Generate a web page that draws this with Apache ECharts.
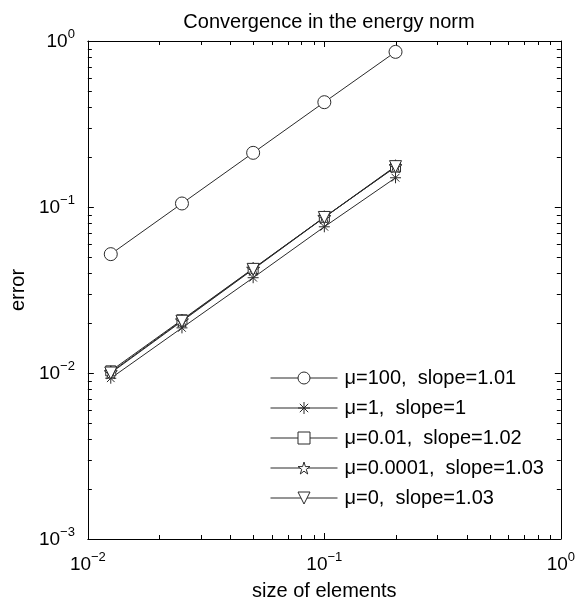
<!DOCTYPE html>
<html>
<head>
<meta charset="utf-8">
<script src="https://cdn.jsdelivr.net/npm/echarts@6/dist/echarts.min.js"></script>
<style>
html,body{margin:0;padding:0;background:#fff;}
#main{width:578px;height:606px;}
</style>
</head>
<body>
<div id="main"></div>
<script>
// element sizes (h) and errors in the energy norm
var sizes = [0.0125, 0.025, 0.05, 0.1, 0.2];
var err100 = [0.052, 0.105, 0.212, 0.428, 0.86];
var err1 = [0.0093, 0.0187, 0.0375, 0.076, 0.150];
var err001 = [0.0103, 0.0209, 0.0426, 0.0868, 0.174];
var err00001 = [0.0101, 0.0207, 0.0424, 0.0868, 0.176];
var err0 = [0.0100, 0.0205, 0.0421, 0.0865, 0.175];
var names = ['μ=100,  slope=1.01', 'μ=1,  slope=1', 'μ=0.01,  slope=1.02', 'μ=0.0001,  slope=1.03', 'μ=0,  slope=1.03'];

// minor tick positions (2..9 x 10^k)
var xDecades = [0.01, 0.1];
var yDecades = [0.001, 0.01, 0.1];
var mult = [2, 3, 4, 5, 6, 7, 8, 9];

var FONT = 'Liberation Sans';
var INK = '#000';
var LINE = '#2a2a2a';

var ASTERISK = 'path://M1,0L1,2M0,1L2,1M0.3,0.3L1.7,1.7M0.3,1.7L1.7,0.3';
var STAR = 'path://M0.951,0L1.1755,0.691L1.902,0.691L1.314,1.118L1.539,1.809L0.951,1.382L0.363,1.809L0.588,1.118L0,0.691L0.7265,0.691Z';
var TRIDOWN = 'path://M0,0L2,0L1,1.73Z';

function pairs(ys) {
	return sizes.map(function(x, i) { return [x, ys[i]]; });
}

function expLabel(v) {
	var e = Math.round(Math.log10(v));
	var s = e < 0 ? '\u2212' + (-e) : '' + e;
	return '{b|10}{s|' + s + '}';
}

var richLab = {
	b: {fontFamily: FONT, fontSize: 19, color: INK, lineHeight: 20, verticalAlign: 'bottom'},
	s: {fontFamily: FONT, fontSize: 13, color: INK, lineHeight: 13, verticalAlign: 'bottom', padding: [0, 0, 10, 0]}
};

function minorData(decades) {
	var out = [];
	decades.forEach(function(d) {
		mult.forEach(function(m) { out.push(+(m * d).toPrecision(3)); });
	});
	return out;
}

function lineSeries(name, ys, symbol, size) {
	return {
		name: name,
		type: 'line',
		data: pairs(ys),
		symbol: symbol,
		symbolSize: size,
		showAllSymbol: true,
		lineStyle: {color: LINE, width: 1},
		itemStyle: {color: '#fff', borderColor: LINE, borderWidth: 1},
		emphasis: {disabled: true},
		animation: false,
		z: 3
	};
}

var myChart = echarts.init(document.getElementById('main'));

var axisCommon = {
	type: 'log',
	logBase: 10,
	axisLine: {show: true, lineStyle: {color: INK, width: 1}},
	axisTick: {show: true, inside: true, length: 6, lineStyle: {color: INK}},
	splitLine: {show: false}
};

option = {
	backgroundColor: '#fff',
	animation: false,
	title: {
		text: 'Convergence in the energy norm',
		left: 324,
		textAlign: 'center',
		top: 7,
		textStyle: {fontFamily: FONT, fontSize: 20, fontWeight: 'normal', color: INK}
	},
	grid: {left: 87, right: 17, top: 41, bottom: 65, containLabel: false},
	legend: {
		orient: 'vertical',
		left: 265,
		top: 363,
		itemWidth: 67,
		itemHeight: 15,
		itemGap: 10,
		data: names,
		textStyle: {fontFamily: FONT, fontSize: 20, color: INK, lineHeight: 20, padding: [0, 0, 0, 2]},
		lineStyle: {width: 1, color: LINE},
		itemStyle: {borderWidth: 1, borderColor: LINE, color: '#fff'},
		selectedMode: false
	},
	xAxis: [
		Object.assign({}, axisCommon, {
			min: 0.01, max: 1, position: 'bottom',
			name: 'size of elements',
			nameLocation: 'middle',
			nameGap: 42,
			nameTextStyle: {fontFamily: FONT, fontSize: 20, color: INK},
			axisLabel: {formatter: expLabel, rich: richLab, margin: 15}
		}),
		Object.assign({}, axisCommon, {
			min: 0.01, max: 1, position: 'top',
			axisLabel: {show: false}
		})
	],
	yAxis: [
		Object.assign({}, axisCommon, {
			min: 0.001, max: 1, position: 'left',
			name: 'error',
			nameLocation: 'middle',
			nameGap: 52,
			nameTextStyle: {fontFamily: FONT, fontSize: 20, color: INK},
			axisLabel: {formatter: expLabel, rich: richLab, margin: 13}
		}),
		Object.assign({}, axisCommon, {
			min: 0.001, max: 1, position: 'right',
			axisLabel: {show: false}
		})
	],
	series: [
		lineSeries(names[0], err100, 'circle', 13),
		lineSeries(names[1], err1, ASTERISK, 11),
		lineSeries(names[2], err001, 'rect', 10),
		lineSeries(names[3], err00001, STAR, 13),
		lineSeries(names[4], err0, TRIDOWN, 12),
		{
			// minor ticks on bottom and top edges
			type: 'custom',
			silent: true,
			animation: false,
			data: minorData(xDecades).map(function(v) { return [v, 0.001]; }),
			renderItem: function(params, api) {
				var cs = params.coordSys;
				var x = Math.round(api.coord([api.value(0), 0.001])[0]) + 0.5;
				var st = {stroke: INK, lineWidth: 1};
				return {type: 'group', children: [
					{type: 'line', shape: {x1: x, y1: cs.y + cs.height, x2: x, y2: cs.y + cs.height - 4}, style: st},
					{type: 'line', shape: {x1: x, y1: cs.y, x2: x, y2: cs.y + 4}, style: st}
				]};
			},
			z: 1
		},
		{
			// minor ticks on left and right edges
			type: 'custom',
			silent: true,
			animation: false,
			data: minorData(yDecades).map(function(v) { return [0.01, v]; }),
			renderItem: function(params, api) {
				var cs = params.coordSys;
				var y = Math.round(api.coord([0.01, api.value(1)])[1]) + 0.5;
				var st = {stroke: INK, lineWidth: 1};
				return {type: 'group', children: [
					{type: 'line', shape: {x1: cs.x, y1: y, x2: cs.x + 4, y2: y}, style: st},
					{type: 'line', shape: {x1: cs.x + cs.width, y1: y, x2: cs.x + cs.width - 4, y2: y}, style: st}
				]};
			},
			z: 1
		}
	]
};
myChart.setOption(option);
</script>
</body>
</html>
